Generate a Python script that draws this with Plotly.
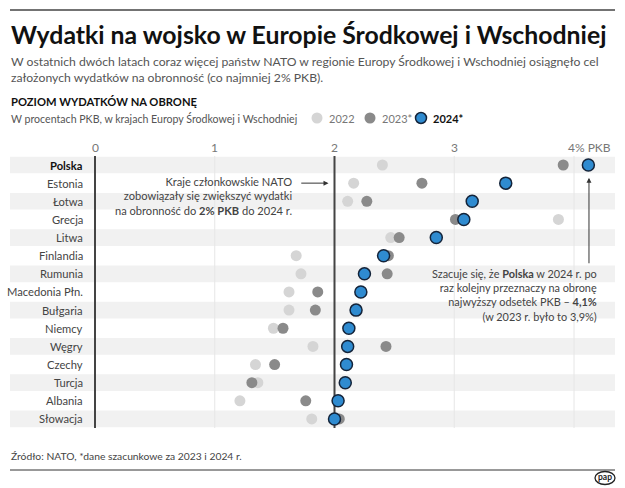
import plotly.graph_objects as go

countries = ["Polska", "Estonia", "Łotwa", "Grecja", "Litwa", "Finlandia", "Rumunia",
             "Macedonia Płn.", "Bułgaria", "Niemcy", "Węgry", "Czechy", "Turcja",
             "Albania", "Słowacja"]
v2022 = [2.40, 2.16, 2.11, 3.87, 2.47, 1.68, 1.72, 1.62, 1.62, 1.49, 1.82, 1.34, 1.36, 1.21, 1.81]
v2023 = [3.91, 2.73, 2.27, 3.01, 2.54, 2.45, 2.44, 1.86, 1.84, 1.57, 2.43, 1.50, 1.31, 1.76, 2.04]
v2024 = [4.12, 3.43, 3.15, 3.08, 2.85, 2.41, 2.25, 2.22, 2.18, 2.12, 2.11, 2.10, 2.09, 2.03, 2.00]
tick_vals = [0, 1, 2, 3, 4]
tick_text = ["0", "1", "2", "3", "4% PKB"]
years = ["2022", "2023*", "2024*"]

W, H = 625, 488
ML, MR, MT, MB = 10, 10, 140, 48
PW, PH = W - ML - MR, H - MT - MB

def px_x(p):
    return (p - ML) / PW

def px_y(p):
    return (H - MB - p) / PH

FONT = "Lato"
C22, C23, C24 = "#d5d5d5", "#8a8a8a", "#2f8bd0"
rows = list(range(len(countries)))

fig = go.Figure()
fig.add_trace(go.Scatter(x=v2022, y=rows, mode="markers", hoverinfo="skip",
                         marker=dict(size=11, color=C22, line=dict(width=0))))
fig.add_trace(go.Scatter(x=v2023, y=rows, mode="markers", hoverinfo="skip",
                         marker=dict(size=11, color=C23, line=dict(width=0))))
fig.add_trace(go.Scatter(x=v2024, y=rows, mode="markers", hoverinfo="skip",
                         marker=dict(size=12, color=C24, line=dict(width=1.5, color="#14243a"))))

shapes = []
annotations = []
# row bands
for i in rows:
    if i % 2 == 0:
        shapes.append(dict(type="rect", xref="paper", yref="y", x0=0, x1=1,
                           y0=i - 0.46, y1=i + 0.46, fillcolor="#f1f1f1",
                           line=dict(width=0), layer="below"))
# gridlines
for t in tick_vals:
    dark = t in (0, 2)
    shapes.append(dict(type="line", xref="x", yref="y", x0=t, x1=t, y0=-0.5, y1=14.5,
                       line=dict(color="#444444" if dark else "#e6e6e6",
                                 width=2 if dark else 1), layer="below"))
for t, lab in zip(tick_vals, tick_text):
    annotations.append(dict(x=t, y=-0.95, xref="x", yref="y", text=lab, showarrow=False,
                            xanchor="left" if t == 4 else "center",
                            xshift=-8 if t == 4 else 0,
                            font=dict(family=FONT, size=12, color="#777777")))
# country labels
for i, c in enumerate(countries):
    annotations.append(dict(x=0, y=i, xref="x", yref="y", xanchor="right", xshift=-10,
                            text=f"<b>{c}</b>" if i == 0 else c, showarrow=False,
                            font=dict(family=FONT, size=11.2,
                                      color="#111111" if i == 0 else "#444444")))

# top and bottom rules
shapes.append(dict(type="line", xref="paper", yref="paper", x0=0, x1=1,
                   y0=px_y(10), y1=px_y(10), line=dict(color="#444444", width=1.5)))
shapes.append(dict(type="line", xref="paper", yref="paper", x0=0, x1=1,
                   y0=px_y(470), y1=px_y(470), line=dict(color="#333333", width=1)))

# title and texts
annotations.append(dict(x=px_x(9), y=px_y(35), xref="paper", yref="paper", xanchor="left",
                        yanchor="middle", showarrow=False,
                        text="<b>Wydatki na wojsko w Europie Środkowej i Wschodniej</b>",
                        font=dict(family=FONT, size=24.8, color="#111111")))
annotations.append(dict(x=px_x(9), y=px_y(70), xref="paper", yref="paper", xanchor="left",
                        yanchor="middle", showarrow=False, align="left",
                        text="W ostatnich dwóch latach coraz więcej państw NATO w regionie Europy Środkowej i Wschodniej osiągnęło cel<br>założonych wydatków na obronność (co najmniej 2% PKB).",
                        font=dict(family=FONT, size=12.2, color="#555555")))
annotations.append(dict(x=px_x(9), y=px_y(101), xref="paper", yref="paper", xanchor="left",
                        yanchor="middle", showarrow=False,
                        text="<b>POZIOM WYDATKÓW NA OBRONĘ</b>",
                        font=dict(family=FONT, size=11.2, color="#111111")))
annotations.append(dict(x=px_x(9), y=px_y(118), xref="paper", yref="paper", xanchor="left",
                        yanchor="middle", showarrow=False,
                        text="W procentach PKB, w krajach Europy Środkowej i Wschodniej",
                        font=dict(family=FONT, size=10.6, color="#555555")))
# legend
leg_x = [317, 370, 421]
leg_col = [C22, C23, C24]
for lx, col, yr, k in zip(leg_x, leg_col, years, range(3)):
    shapes.append(dict(type="circle", xref="paper", yref="paper", xsizemode="pixel",
                       ysizemode="pixel", xanchor=px_x(lx), yanchor=px_y(118),
                       x0=-5.5, x1=5.5, y0=-5.5, y1=5.5, fillcolor=col,
                       line=dict(width=1.5 if k == 2 else 0, color="#14243a")))
    annotations.append(dict(x=px_x(lx + 10), y=px_y(118), xref="paper", yref="paper",
                            xanchor="left", yanchor="middle", showarrow=False,
                            text=f"<b>{yr}</b>" if k == 2 else yr,
                            font=dict(family=FONT, size=11,
                                      color="#111111" if k == 2 else "#777777")))

# left note
annotations.append(dict(x=1.66, y=1.72, xref="x", yref="y", xanchor="right", yanchor="middle",
                        align="right", showarrow=False,
                        text="Kraje członkowskie NATO<br>zobowiązały się zwiększyć wydatki<br>na obronność do <b>2% PKB</b> do 2024 r.",
                        font=dict(family=FONT, size=11.1, color="#444444")))
annotations.append(dict(x=1.95, y=1.0, ax=1.71, ay=1.0, xref="x", yref="y", axref="x", ayref="y",
                        text="", showarrow=True, arrowhead=2, arrowsize=1, arrowwidth=1,
                        arrowcolor="#333333"))
# right note
annotations.append(dict(x=4.21, y=7.15, xref="x", yref="y", xanchor="right", yanchor="middle",
                        align="right", showarrow=False,
                        text="Szacuje się, że <b>Polska</b> w 2024 r. po<br>raz kolejny przeznaczy na obronę<br>najwyższy odsetek PKB – <b>4,1%</b><br>(w 2023 r. było to 3,9%)",
                        font=dict(family=FONT, size=10.9, color="#444444")))
annotations.append(dict(x=4.125, y=0.7, ax=4.125, ay=5.5, xref="x", yref="y", axref="x", ayref="y",
                        text="", showarrow=True, arrowhead=2, arrowsize=1, arrowwidth=1,
                        arrowcolor="#333333"))
# source
annotations.append(dict(x=px_x(9), y=px_y(456), xref="paper", yref="paper", xanchor="left",
                        yanchor="middle", showarrow=False,
                        text="Źródło: NATO, *dane szacunkowe za 2023 i 2024 r.",
                        font=dict(family=FONT, size=10.3, color="#444444")))
# pap logo
shapes.append(dict(type="circle", xref="paper", yref="paper", xsizemode="pixel",
                   ysizemode="pixel", xanchor=px_x(605), yanchor=px_y(478),
                   x0=-10, x1=10, y0=-6.5, y1=6.5, fillcolor="white",
                   line=dict(width=1.3, color="#222222")))
annotations.append(dict(x=px_x(605), y=px_y(477), xref="paper", yref="paper", xanchor="center",
                        yanchor="middle", showarrow=False, text="<b>pap</b>",
                        font=dict(family=FONT, size=8.5, color="#222222")))

XMIN = -85 / 119.75
XMAX = XMIN + PW / 119.75
YMIN = -25 / 18.14
YMAX = YMIN + PH / 18.14

fig.update_layout(
    width=W, height=H, margin=dict(l=ML, r=MR, t=MT, b=MB),
    paper_bgcolor="white", plot_bgcolor="white", showlegend=False,
    xaxis=dict(range=[XMIN, XMAX], visible=False, fixedrange=True),
    yaxis=dict(range=[YMAX, YMIN], visible=False, fixedrange=True),
    shapes=shapes, annotations=annotations,
)
fig.write_html("out.html", config={"displayModeBar": False},
               post_script="document.body.style.margin='0';document.body.style.overflow='hidden';")
